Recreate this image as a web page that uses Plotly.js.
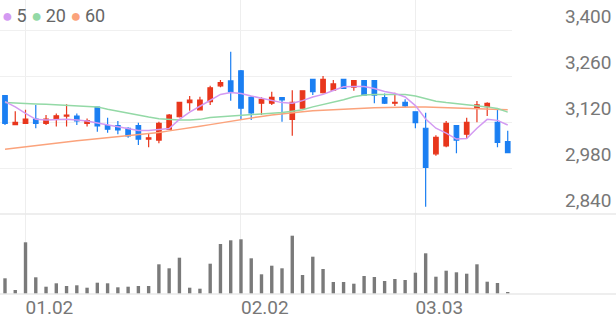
<!DOCTYPE html>
<html><head><meta charset="utf-8">
<script src="https://cdn.plot.ly/plotly-3.0.1.min.js"></script>
<style>html,body{margin:0;padding:0;background:#fff;}#chart{width:616px;height:321px;}</style>
</head><body><div id="chart"></div>
<script>
// session index (trading days)
const days = [0,1,2,3,4,5,6,7,8,9,10,11,12,13,14,15,16,17,18,19,20,21,22,23,24,25,26,27,28,29,30,31,32,33,34,35,36,37,38,39,40,41,42,43,44,45,46,47,48,49];
const dateTickPos = [2, 23, 40];
const dateTickText = ['01.02', '02.02', '03.03'];
const priceTicks = [2840, 2980, 3120, 3260, 3400];
const priceTickText = ['2,840', '2,980', '3,120', '3,260', '3,400'];

const open  = [3200,3112,3116,3129,3116,3128,3138,3138,3116,3165,3109,3109,3101,3109,3068,3065,3098,3136,3179,3157,3182,3230,3245,3276,3195,3177,3177,3194,3128,3162,3250,3209,3217,3250,3226,3246,3246,3194,3177,3180,3151,3101,3023,3047,3109,3083,3162,3167,3119,3060];
const high  = [3202,3153,3157,3172,3141,3146,3174,3146,3131,3166,3133,3123,3104,3118,3086,3121,3144,3182,3199,3197,3230,3248,3334,3278,3199,3195,3212,3195,3217,3216,3252,3260,3248,3252,3248,3248,3247,3207,3209,3189,3153,3148,3080,3123,3111,3133,3184,3180,3162,3093];
const low   = [3111,3112,3114,3101,3111,3106,3106,3111,3106,3090,3087,3083,3072,3050,3043,3055,3098,3134,3154,3155,3172,3226,3185,3126,3126,3141,3172,3121,3078,3160,3202,3207,3215,3222,3215,3200,3177,3175,3169,3165,3101,2862,3017,3043,3025,3070,3119,3138,3043,3027];
const close = [3116,3119,3129,3116,3129,3139,3141,3123,3124,3108,3098,3096,3078,3068,3072,3116,3141,3180,3187,3187,3224,3240,3212,3162,3148,3189,3195,3187,3180,3215,3212,3250,3236,3222,3246,3202,3202,3177,3180,3169,3118,2982,3073,3116,3065,3119,3172,3177,3058,3027];

const ma5  = [3182,3166,3146,3128,3126,3127,3128,3126,3123,3117,3111,3104,3098,3094,3094,3097,3100,3128,3150,3168,3187,3204,3210,3207,3199,3192,3185,3179,3177,3185,3196,3204,3216,3227,3228,3228,3222,3213,3207,3196,3170,3129,3101,3086,3068,3070,3101,3128,3125,3111];
const ma20 = [3179,3177,3176,3175,3174,3172,3172,3170,3168,3166,3159,3153,3146,3139,3135,3130,3127,3126,3126,3128,3134,3136,3138,3140,3141,3144,3146,3149,3153,3157,3166,3173,3182,3188,3197,3202,3204,3204,3204,3204,3199,3191,3183,3179,3176,3173,3170,3166,3161,3150];
const ma60 = [3037,3041,3045,3049,3053,3057,3060,3063,3066,3069,3072,3075,3078,3080,3084,3088,3093,3097,3102,3107,3112,3117,3122,3129,3133,3137,3141,3145,3147,3151,3154,3156,3157,3158,3160,3162,3163,3164,3166,3167,3166,3166,3165,3165,3164,3163,3162,3161,3159,3157];

const volume = [157,40,517,167,73,107,80,87,63,113,107,67,73,80,80,297,257,363,63,53,303,500,537,547,357,197,283,257,583,190,373,250,120,120,103,180,170,130,150,140,213,407,173,233,217,203,297,123,110,20];

const UP = '#e8361c', DOWN = '#1b7ff2';
const C5 = '#d39af2', C20 = '#93d9a6', C60 = '#fba37c';

const traces = [
  {type:'scatter', mode:'lines', x:days, y:ma60, line:{color:C60, width:1.5}, xaxis:'x', yaxis:'y', hoverinfo:'skip'},
  {type:'scatter', mode:'lines', x:days, y:ma20, line:{color:C20, width:1.5}, xaxis:'x', yaxis:'y', hoverinfo:'skip'},
  {type:'scatter', mode:'lines', x:days, y:ma5,  line:{color:C5,  width:1.5}, xaxis:'x', yaxis:'y', hoverinfo:'skip'},
  {type:'candlestick', x:days, open:open, high:high, low:low, close:close, xaxis:'x', yaxis:'y',
   increasing:{line:{color:UP, width:1.2}, fillcolor:UP},
   decreasing:{line:{color:DOWN, width:1.2}, fillcolor:DOWN},
   whiskerwidth:0, hoverinfo:'skip'},
  {type:'bar', x:days, y:volume, width:0.33, marker:{color:'#7a7a7a'}, xaxis:'x2', yaxis:'y2', hoverinfo:'skip'}
];

const W = 616, H = 321, R = 104, B = 27;
const plotH = H - B;          // 294
const splitFrac = 80 / plotH; // volume pane height fraction
const xr = [-0.487, 49.416];

const layout = {
  width: W, height: H,
  margin: {l:0, r:R, t:0, b:B, pad:0},
  paper_bgcolor:'#ffffff', plot_bgcolor:'#ffffff',
  showlegend:false,
  font:{family:'Roboto, "Noto Sans", sans-serif', color:'#777777'},
  boxgap:0.56, boxgroupgap:0,
  xaxis:{domain:[0,1], anchor:'y', range:xr, rangeslider:{visible:false},
    tickmode:'array', tickvals:dateTickPos, ticktext:dateTickText, showticklabels:false,
    showgrid:true, gridcolor:'#eeeeee', gridwidth:1, zeroline:false, showline:false, ticks:''},
  yaxis:{domain:[splitFrac,1], anchor:'x', side:'right', range:[2840, 3491.3],
    tickmode:'array', tickvals:priceTicks, ticktext:priceTickText,
    showgrid:true, gridcolor:'#f0f0f0', gridwidth:1, zeroline:false, showline:false, ticks:'',
    tickfont:{size:19, color:'#777777'}, ticklabelshift:-14, ticklabelstandoff:52},
  xaxis2:{domain:[0,1], anchor:'y2', range:xr,
    tickmode:'array', tickvals:dateTickPos, ticktext:dateTickText,
    ticklabelposition:'outside right', ticklabelstandoff:0,
    tickfont:{size:19, color:'#777777'},
    showgrid:true, gridcolor:'#eeeeee', gridwidth:1, zeroline:false, showline:false, ticks:''},
  yaxis2:{domain:[0,splitFrac], anchor:'x2', range:[0,800], showgrid:false, zeroline:false,
    showticklabels:false, ticks:''},
  shapes:[
    {type:'line', xref:'paper', yref:'paper', x0:0, x1:W/(W-R), y0:splitFrac, y1:splitFrac, line:{color:'#e8e8e8', width:1.5}},
    {type:'line', xref:'paper', yref:'paper', x0:0, x1:W/(W-R), y0:0, y1:0, line:{color:'#e8e8e8', width:1.5}}
  ],
  annotations:[
    {xref:'paper', yref:'paper', x:0, y:1 - 16/plotH, xanchor:'left', yanchor:'middle', showarrow:false,
     font:{size:18, color:'#666666'},
     text:'<span style="color:'+C5+'">●</span>\u20095 <span style="color:'+C20+'">●</span>\u200920 <span style="color:'+C60+'">●</span>\u200960'}
  ]
};

Plotly.newPlot('chart', traces, layout, {staticPlot:true, displayModeBar:false});
</script>
</body></html>
